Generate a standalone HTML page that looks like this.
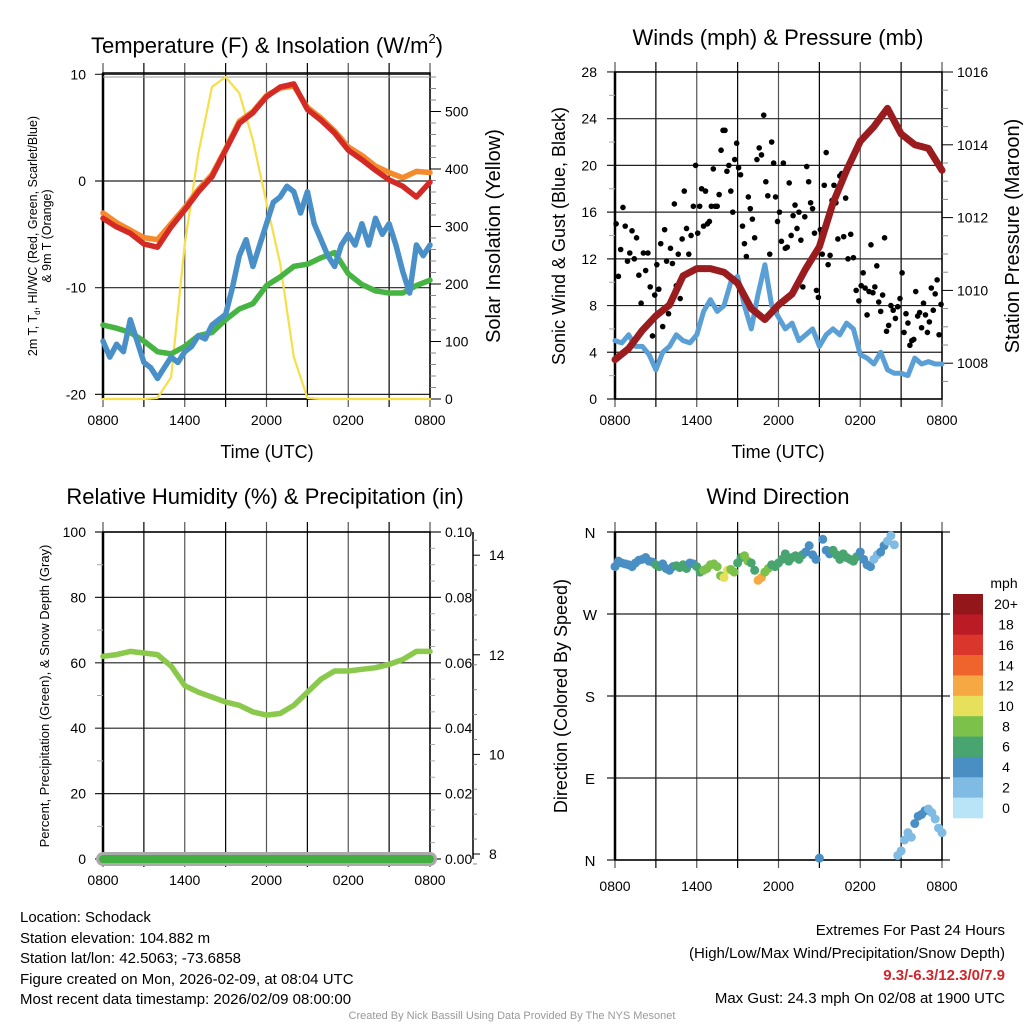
<!DOCTYPE html>
<html><head><meta charset="utf-8"><style>
html,body{margin:0;padding:0;background:#fff;}
svg{display:block;font-family:"Liberation Sans",sans-serif;}
</style></head><body>
<svg id="svg" width="1024" height="1024" viewBox="0 0 1024 1024" xmlns="http://www.w3.org/2000/svg">
<g id="g-tl"></g>
<g id="g-tr"></g>
<g id="g-bl"></g>
<g id="g-br"></g>
<g font-size="15" fill="#000">
<text x="20" y="922">Location: Schodack</text>
<text x="20" y="943">Station elevation: 104.882 m</text>
<text x="20" y="963">Station lat/lon: 42.5063; -73.6858</text>
<text x="20" y="984">Figure created on Mon, 2026-02-09, at 08:04 UTC</text>
<text x="20" y="1004">Most recent data timestamp: 2026/02/09 08:00:00</text>
</g>
<g font-size="15" text-anchor="end">
<text x="1005" y="935">Extremes For Past 24 Hours</text>
<text x="1005" y="958">(High/Low/Max Wind/Precipitation/Snow Depth)</text>
<text x="1005" y="980" fill="#d0262b" font-weight="bold">9.3/-6.3/12.3/0/7.9</text>
<text x="1005" y="1003">Max Gust: 24.3 mph On 02/08 at 1900 UTC</text>
</g>
<text x="512" y="1019" font-size="11" fill="#999" text-anchor="middle">Created By Nick Bassill Using Data Provided By The NYS Mesonet</text>
</svg>
<script>
// ---------- DATA ----------
const xTickLabels = ["0800","1400","2000","0200","0800"];
const tempRed = [-3.5,-4.3,-4.9,-5.9,-6.2,-4.3,-2.7,-1.0,0.4,2.9,5.4,6.4,7.9,8.8,9.1,6.7,5.7,4.5,2.9,2.0,1.0,0.1,-0.5,-1.5,-0.1];
const tempOrange = [-3.0,-3.9,-4.6,-5.3,-5.5,-4.0,-2.5,-0.8,0.6,3.0,5.6,6.5,8.0,8.7,8.9,6.9,5.9,4.7,3.2,2.4,1.4,0.8,0.3,0.9,0.8];
const dewGreen = [-13.5,-13.8,-14.2,-15.0,-16.0,-16.2,-15.5,-14.5,-14.2,-13.0,-12.0,-11.5,-9.8,-9.0,-8.0,-7.8,-7.2,-6.7,-8.7,-9.7,-10.3,-10.5,-10.5,-9.8,-9.3];
const windChill = [-15,-16.5,-15.3,-16,-13,-15,-17,-17.5,-18.5,-17.5,-16.5,-17,-16,-15.5,-14.5,-14.8,-13.5,-13,-12.5,-10,-7,-5.5,-8,-6,-4,-2,-1.5,-0.5,-1,-3,-1,-4,-5.5,-7,-8,-6,-5,-6,-4,-6,-3.5,-5,-4,-6,-8.5,-10.5,-6,-7,-6];
const insolation = [0,0,0,0,2,38,270,428,543,560,532,450,341,236,73,2,0,0,0,0,0,0,0,0,0];
const tempTicks = [10,0,-10,-20];
const solarTicks = [0,100,200,300,400,500];
const windSpeed = [5,4.8,5.5,4.5,4.5,3.8,2.5,4,4.5,5.5,5,4.8,5.5,7.5,8.5,7.5,8,10,10.5,8,6,9,11.5,8,7,6,6.5,5,5.5,6,4.5,5.5,6,5.5,6.5,6,3.8,3.5,3,4,2.5,2.2,2.2,2,3.5,3,3.2,3,3];
const gustByHour = [
[15,10.5,12.8,16.4,14.8,11.8],[12.5,14.4,12,13.8,10.6,8.2],[12.5,11,12.5,9.6,5.4,8.9],
[11.5,9.4,13.3,6.2,14.5,11.8,7.3],[12.9,11.6,16.7,9.7,12.4,8.6,13.7],[17.8,14.6,12.4,14,16.5,20],
[14.2,16.5,18,14.8,17.8,15,15.2],[16.5,19.7,16.5,16.5,17.5,21.3,23],[23,19.5,20,17.8,16,20.5,21.9],
[19.8,19.2,14.8,13.3,12.2,17.3,16.3],[15.4,13.8,20.5,21.5,20.9,24.3],[18.6,17.4,12.4,22,20.2,17.3,15.2],
[16,13.5,20.2,12.9,13,18.5,14],[15.7,16.6,14.6,16,13.6,9.6,15.6],[19.9,18.6,16.8,16.3,14.2,9.3,8.7],
[14.5,12.4,18.3,21.1,11.5,12.3,17],[18.3,16.8,13.7,19.1,19.3,13.9,17.2],[12,14.1,12.1,9.3,8.4],
[9.7,10.8,9.5,7.2,9.2,13.2,9.1],[9.6,11.4,8.3,7.5,8.9,13.8,5.8],[6.3,8,7.6,6.9,7.9,8.6],
[10.8,5.7,7.3,6.5,4.6,5,5.1],[9.2,7.1,7.4,6.1,8.2,7.2,5.7],[6.6,9.5,7.6,9.0,10.2,5.5,8.1]];
const pressure = [1008.1,1008.4,1008.9,1009.3,1009.6,1010.4,1010.6,1010.6,1010.5,1010.2,1009.5,1009.2,1009.6,1009.9,1010.6,1011.2,1012.4,1013.3,1014.1,1014.5,1015.0,1014.3,1014.0,1013.9,1013.3];
const windTicks = [0,4,8,12,16,20,24,28];
const pressTicks = [1008,1010,1012,1014,1016];
const relHum = [62,62.5,63.5,63,62.5,59,53,51,49.5,48,47,45,44,44.5,47,51,55,57.5,57.5,58,58.5,59.5,61,63.5,63.5];
const precip = [0,0,0,0,0,0,0,0,0,0,0,0,0,0,0,0,0,0,0,0,0,0,0,0,0];
const snowDepth = [7.9,7.9,7.9,7.9,7.9,7.9,7.9,7.9,7.9,7.9,7.9,7.9,7.9,7.9,7.9,7.9,7.9,7.9,7.9,7.9,7.9,7.9,7.9,7.9,7.9];
const rhTicks = [0,20,40,60,80,100];
const precipTicks = ["0.00","0.02","0.04","0.06","0.08","0.10"];
const snowTicks = [8,10,12,14];
const windDir = [322,328,326,325,324,322,326,329,330,332,328,327,324,322,325,320,318,322,323,321,324,320,326,325,322,316,318,320,324,325,322,312,310,318,319,316,326,332,334,328,326,318,307,310,316,320,324,322,326,330,336,328,332,334,330,335,338,345,335,330,2,352,340,336,340,335,330,336,332,330,328,333,338,330,324,322,330,335,338,345,350,356,346,5,10,22,30,25,40,48,50,54,56,52,45,35,30];
const dirSpeed = [4,5,4,5,4,4,6,4,5,6,6,5,7,8,8,9,10,8,6,8,7,12,8,7,7,6,6,7,5,4,4,4,6,7,6,6,5,4,3,4,2,2,2,3,4,4,3,3,3];
const dirLabels = ["N","W","S","E","N"];
const speedBins = ["0","2","4","6","8","10","12","14","16","18","20+"];
const binColors = ["#b9e3f7","#7fbbe3","#4a8fc4","#48a56f","#7cc24a","#e6e05a","#f6a943","#ef642c","#db362b","#bb1b25","#93161b"];

// ---------- HELPERS ----------
const NS="http://www.w3.org/2000/svg";
function mk(parent,tag,attrs,txt){const e=document.createElementNS(NS,tag);for(const k in attrs)e.setAttribute(k,attrs[k]);if(txt!==undefined)e.textContent=txt;parent.appendChild(e);return e;}
function poly(parent,pts,stroke,w,name){const e=mk(parent,"polyline",{points:pts.map(p=>p[0].toFixed(1)+","+p[1].toFixed(1)).join(" "),fill:"none",stroke:stroke,"stroke-width":w,"stroke-linejoin":"round","stroke-linecap":"round"});


return e;}
function frame(g,x0,x1,y0,y1,yLines,xExt){
 for(let i=0;i<=8;i++){const x=x0+i*(x1-x0)/8;
  const l=mk(g,"line",{x1:x,x2:x,y1:y0-10,y2:y1+8,stroke:(i%2? "#000":"#555"),"stroke-width":1.2});
  
  }
 yLines.forEach(y=>{const l=mk(g,"line",{x1:x0-8,x2:x1+(xExt||0),y1:y,y2:y,stroke:"#222","stroke-width":1.2});
  
  });
 const r=mk(g,"rect",{x:x0,y:y0,width:x1-x0,height:y1-y0,fill:"none",stroke:"#000","stroke-width":1.5});
 
 
 mk(g,"line",{x1:x0,x2:x0,y1:y0,y2:y1,stroke:"#000","stroke-width":2.5});
}
function xLabels(g,x0,x1,y){xTickLabels.forEach((t,i)=>{const e=mk(g,"text",{x:x0+i*(x1-x0)/4,y:y,"font-size":14,"text-anchor":"middle"},t);
 
 });}
function label(g,x,y,t,anchor,size,rot,name){const a={x:x,y:y,"font-size":size,"text-anchor":anchor};if(rot)a.transform="rotate(-90 "+x+" "+y+")";const e=mk(g,"text",a,t);
 
 return e;}
function rightTicks(g,x,yTop,yBot,n,minorEvery){for(let i=0;i<=n;i++){const y=yBot-(yBot-yTop)*i/n;const major=i%minorEvery===0;
 mk(g,"line",{x1:x,x2:x+(major?11:6),y1:y,y2:y,stroke:major?"#000":"#888","stroke-width":1});}}

// ---------- TOP LEFT ----------
(function(){
 const g=document.getElementById("g-tl");
 const X0=103,X1=430; const xh=h=>X0+h*(X1-X0)/24;
 const yT=v=>181-v*10.67; const yS=w=>399-w*0.575;
 const tt=label(g,267,53,"","middle",22,false,"chart-title-temperature");
 tt.innerHTML='Temperature (F) &amp; Insolation (W/m<tspan font-size="13" dy="-10">2</tspan><tspan dy="10">)</tspan>';
 frame(g,X0,X1,73,399,tempTicks.map(yT),0);
 mk(g,"line",{x1:X0,x2:X1,y1:77,y2:77,stroke:"#999","stroke-width":1});
 mk(g,"line",{x1:X0,x2:X1,y1:399,y2:399,stroke:"#000","stroke-width":1.5});
 rightTicks(g,X1,yS(560),399,28,5);
 tempTicks.forEach(t=>label(g,86,yT(t)+5,String(t),"end",14,false,"y-tick-label"));
 solarTicks.forEach(t=>label(g,445,yS(t)+5,String(t),"start",14,false,"y2-tick-label"));
 xLabels(g,X0,X1,425);
 label(g,267,458,"Time (UTC)","middle",18,false,"x-axis-title");
 label(g,500,236,"Solar Insolation (Yellow)","middle",20,true,"y2-axis-title");
 const t1=label(g,37,236,"","middle",12.5,true,"y-axis-title");
 t1.innerHTML='2m T, T<tspan font-size="8" dy="3">d</tspan><tspan dy="-3">, HI/WC (Red, Green, Scarlet/Blue)</tspan>';
 label(g,51,236,"& 9m T (Orange)","middle",12.5,true,"y-axis-title-line2");
 poly(g,insolation.map((v,i)=>[xh(i),yS(v)]),"#f7df4a",2.2,"insolation-line");
 poly(g,dewGreen.map((v,i)=>[xh(i),yT(v)]),"#46b443",5.5,"dewpoint-line");
 poly(g,windChill.map((v,i)=>[xh(i/2),yT(v)]),"#4a90c8",5.5,"windchill-line");
 poly(g,tempOrange.map((v,i)=>[xh(i),yT(v)]),"#f58a2c",5.5,"temp-9m-line");
 poly(g,tempRed.map((v,i)=>[xh(i),yT(v)]),"#d42a26",5.5,"temp-2m-line");
})();

// ---------- TOP RIGHT ----------
(function(){
 const g=document.getElementById("g-tr");
 const X0=615,X1=942; const xh=h=>X0+h*(X1-X0)/24;
 const yW=v=>399-v*11.68; const yP=p=>72+(1016-p)*36.4;
 label(g,778,45,"Winds (mph) & Pressure (mb)","middle",22,false,"chart-title-winds");
 frame(g,X0,X1,72,399,windTicks.map(yW),0);
 windTicks.forEach(t=>label(g,597,yW(t)+5,String(t),"end",14,false,"y-tick-label"));
 for(let v=2;v<28;v+=4) mk(g,"line",{x1:609,x2:615,y1:yW(v),y2:yW(v),stroke:"#aaa"});
 for(let p=1007.5;p<=1016;p+=0.5){const maj=(p%2===0);mk(g,"line",{x1:X1,x2:X1+(maj?11:6),y1:yP(p),y2:yP(p),stroke:maj?"#000":"#888"});}
 pressTicks.forEach(t=>label(g,957,yP(t)+5,String(t),"start",14,false,"y2-tick-label"));
 xLabels(g,X0,X1,425);
 label(g,778,458,"Time (UTC)","middle",18,false,"x-axis-title");
 label(g,565,236,"Sonic Wind & Gust (Blue, Black)","middle",18,true,"y-axis-title");
 label(g,1019,236,"Station Pressure (Maroon)","middle",20,true,"y2-axis-title");
 poly(g,windSpeed.map((v,i)=>[xh(i/2),yW(v)]),"#5a9fd6",5,"wind-speed-line");
 gustByHour.forEach((arr,h)=>arr.forEach((v,j)=>{
  const c=mk(g,"circle",{cx:xh(h+(j+0.5)/arr.length),cy:yW(v),r:2.8,fill:"#000"});
  
  
 }));
 poly(g,pressure.map((v,i)=>[xh(i),yP(v)]),"#9a1c1f",7,"pressure-line");
})();

// ---------- BOTTOM LEFT ----------
(function(){
 const g=document.getElementById("g-bl");
 const X0=103,X1=430; const xh=h=>X0+h*(X1-X0)/24;
 const yR=v=>859-v*3.27; const yPr=v=>859-v*3270; const ySn=v=>854-(v-8)*49.8;
 label(g,265,504,"Relative Humidity (%) & Precipitation (in)","middle",22,false,"chart-title-humidity");
 frame(g,X0,X1,532,859,rhTicks.map(yR),11);
 for(let v=10;v<100;v+=20) mk(g,"line",{x1:97,x2:103,y1:yR(v),y2:yR(v),stroke:"#aaa"});
 for(let i=0;i<=20;i++){if(i%4)mk(g,"line",{x1:X1,x2:X1+5,y1:yR(i*5),y2:yR(i*5),stroke:"#aaa"});}
 rhTicks.forEach(t=>label(g,86,yR(t)+5,String(t),"end",14,false,"y-tick-label"));
 precipTicks.forEach((t,i)=>label(g,445,yR(i*20)+5,t,"start",14,false,"y2-tick-label"));
 mk(g,"line",{x1:473,x2:473,y1:532,y2:859,stroke:"#000","stroke-width":1.5});
 for(let v=7.8;v<=14.6;v+=0.5){mk(g,"line",{x1:473,x2:477,y1:ySn(v),y2:ySn(v),stroke:"#888"});}
 snowTicks.forEach(t=>{mk(g,"line",{x1:473,x2:480,y1:ySn(t),y2:ySn(t),stroke:"#000"});label(g,489,ySn(t)+5,String(t),"start",14,false,"y3-tick-label");});
 xLabels(g,X0,X1,885);
 label(g,49,696,"Percent, Precipitation (Green), & Snow Depth (Gray)","middle",13,true,"y-axis-title");
 poly(g,snowDepth.map((v,i)=>[xh(i),ySn(v)]),"#aaaaaa",14,"snow-depth-line");
 poly(g,precip.map((v,i)=>[xh(i),yPr(v)]),"#42b040",8,"precip-line");
 poly(g,relHum.map((v,i)=>[xh(i),yR(v)]),"#8ac94c",5.5,"humidity-line");
})();

// ---------- BOTTOM RIGHT ----------
(function(){
 const g=document.getElementById("g-br");
 const X0=615,X1=942; const xh=h=>X0+h*(X1-X0)/24;
 const yD=d=>860-d*82/90;
 label(g,778,504,"Wind Direction","middle",22,false,"chart-title-direction");
 frame(g,X0,X1,532,860,[0,90,180,270,360].map(yD),8);
 dirLabels.forEach((t,i)=>label(g,590,yD(360-i*90)+6,t,"middle",15,false,"direction-tick-label"));
 xLabels(g,X0,X1,891);
 label(g,567,696,"Direction (Colored By Speed)","middle",18,true,"y-axis-title");
 windDir.forEach((d,i)=>{
  const s=dirSpeed[Math.floor(i/2)];
  const c=mk(g,"circle",{cx:xh(i/4),cy:yD(d),r:4.5,fill:binColors[Math.min(10,Math.floor(s/2))]});
  
  
 });
 label(g,1004,588,"mph","middle",14,false,"colorbar-title");
 const bh=(818-594)/11;
 speedBins.forEach((b,i)=>{const k=10-i;
  const r=mk(g,"rect",{x:953,y:594+i*bh,width:30,height:bh+0.3,fill:binColors[k]});
  
  
  label(g,1006,594+i*bh+bh/2+5,speedBins[k],"middle",14,false,"colorbar-label");
 });
})();
</script>
</body></html>
